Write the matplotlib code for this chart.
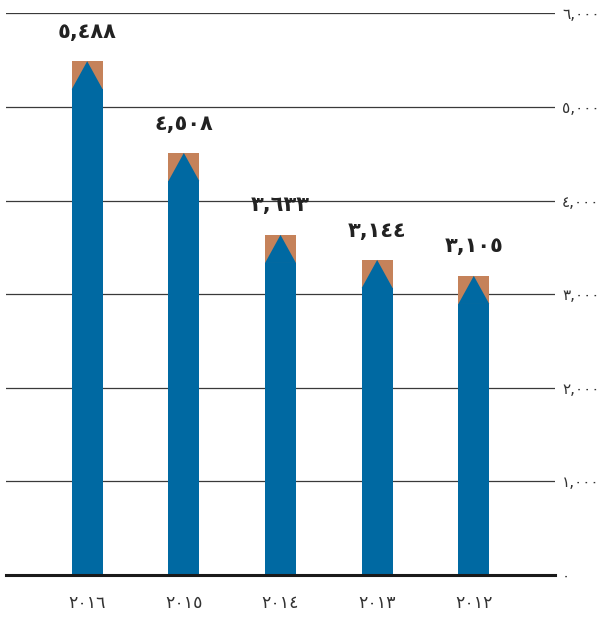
import matplotlib
matplotlib.use("Agg")
import matplotlib.pyplot as plt
from matplotlib.patches import Polygon

plt.rcParams['font.family'] = ['DejaVu Sans']

years = ['٢٠١٦', '٢٠١٥', '٢٠١٤', '٢٠١٣', '٢٠١٢']
values = [5488, 4508, 3633, 3365, 3195]
value_labels = ['٥,٤٨٨', '٤,٥٠٨', '٣,٦٣٣', '٣,١٤٤', '٣,١٠٥']
yticks = [0, 1000, 2000, 3000, 4000, 5000, 6000]
ytick_labels = ['٠', '١,٠٠٠', '٢,٠٠٠', '٣,٠٠٠', '٤,٠٠٠', '٥,٠٠٠', '٦,٠٠٠']

BLUE = '#0069A2'
BROWN = '#C5825A'
CAP = 300
W = 0.32

fig = plt.figure(figsize=(6.03, 6.17), dpi=100)
ax = fig.add_axes([6/603, (617-575)/617, (555-6)/603, (575-13.3)/617])
ax.set_xlim(-0.84, 4.84)
ax.set_ylim(0, 6000)

for yv in yticks[1:]:
    ax.axhline(yv, color='#3a3a3a', lw=0.9, zorder=1)
ax.axhline(0, color='#1a1a1a', lw=2.2, zorder=5, clip_on=False)

for i, v in enumerate(values):
    ax.bar(i, v, width=W, color=BROWN, zorder=2, linewidth=0)
    ax.bar(i, v - CAP, width=W, color=BLUE, zorder=3, linewidth=0)
    tri = Polygon([[i - W/2, v - CAP], [i, v], [i + W/2, v - CAP]],
                  closed=True, facecolor=BLUE, edgecolor='none', zorder=3)
    ax.add_patch(tri)
    ax.annotate(value_labels[i], (i, v), xytext=(0, 14), textcoords='offset points',
                ha='center', va='bottom', fontsize=15, fontweight='bold', color='#222222')

ax.set_xticks(range(len(years)))
ax.set_xticklabels(years, fontsize=12.5, color='#333333')
ax.set_yticks(yticks)
ax.set_yticklabels(ytick_labels, fontsize=11, color='#333333')
ax.yaxis.tick_right()
ax.tick_params(axis='both', length=0)
ax.tick_params(axis='x', pad=14)
ax.tick_params(axis='y', pad=5)
for s in ax.spines.values():
    s.set_visible(False)

fig.savefig('out.png', dpi=100)
